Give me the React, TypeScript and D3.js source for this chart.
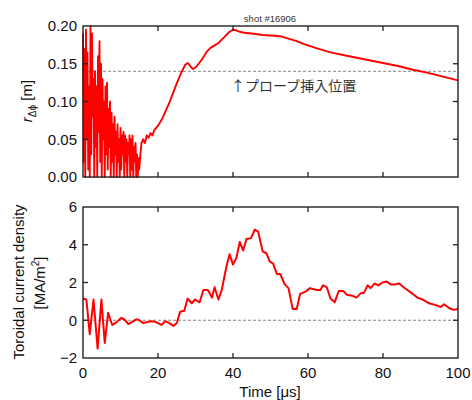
import React from 'react'
import * as d3 from 'd3'

// noisy part of r_dphi, sampled every 0.2 us from t = 0
const noiseStep = 0.2
const rNoise = [
  0.19, 0.02, 0.17, 0.0, 0.195, 0.05, 0.165, 0.01, 0.12, 0.0,
  0.2, 0.03, 0.19, 0.08, 0.13, 0.0, 0.14, 0.04, 0.12, 0.0,
  0.16, 0.06, 0.18, 0.02, 0.15, 0.0, 0.13, 0.05, 0.1, 0.0,
  0.12, 0.03, 0.125, 0.01, 0.09, 0.04, 0.1, 0.0, 0.085, 0.02,
  0.07, 0.0, 0.08, 0.03, 0.06, 0.0, 0.07, 0.02, 0.05, 0.0,
  0.065, 0.01, 0.055, 0.03, 0.06, 0.0, 0.055, 0.02, 0.05, 0.0,
  0.045, 0.03, 0.055, 0.0, 0.05, 0.01, 0.055, 0.0, 0.04, 0.02,
  0.045, 0.0, 0.03, 0.0, 0.025, 0.01
]

// smooth part [time us, r m]
const rSmooth: [number, number][] = [
  [15.3, 0.03], [15.6, 0.045], [16, 0.05], [16.5, 0.045], [17, 0.055], [17.5, 0.052],
  [18, 0.058], [18.5, 0.055], [19, 0.062], [20, 0.068], [21, 0.076], [22, 0.087],
  [23, 0.098], [24, 0.111], [25, 0.124], [26, 0.136], [26.7, 0.143], [27.3, 0.149],
  [28, 0.151], [28.6, 0.147], [29.3, 0.143], [30, 0.145], [31, 0.151], [32, 0.158],
  [33, 0.166], [34, 0.171], [35, 0.174], [36, 0.177], [37, 0.182], [38, 0.187],
  [39, 0.192], [40, 0.195], [41, 0.194], [42, 0.192], [43, 0.191], [45, 0.19],
  [48, 0.188], [51, 0.187], [53, 0.186], [55, 0.183], [57, 0.18], [59, 0.176],
  [62, 0.171], [66, 0.165], [70, 0.161], [73, 0.158], [77, 0.154], [80, 0.151],
  [84, 0.147], [88, 0.142], [92, 0.138], [96, 0.133], [100, 0.128]
]

// toroidal current density [time us, MA/m2]
const jData: [number, number][] = [
  [0, 1.15], [0.9, 1.1], [1.8, -0.74], [2.8, 1.1], [3.9, -1.5], [4.9, 1.1], [5.8, -1.2],
  [6.7, 0.4], [7.8, -0.25], [9, -0.1], [10.1, 0.12], [11, 0.05], [12.1, -0.2], [13, -0.1],
  [14.2, 0.05], [15, 0], [16.1, -0.15], [17, -0.1], [18.3, -0.05], [19.5, -0.1], [20.9, -0.25],
  [21.9, -0.05], [23, -0.15], [24.1, -0.3], [25, -0.15], [25.9, 0.45], [27, 0.5], [27.9, 1.15],
  [29, 0.9], [29.9, 1.1], [31.1, 0.95], [32.1, 1.6], [33.3, 1.6], [34.4, 1.2], [35.1, 1.75],
  [36.1, 1.1], [37, 1.6], [38.3, 2.9], [39.1, 3.5], [40, 2.95], [40.9, 3.3], [41.8, 4.15],
  [42.7, 3.7], [43.6, 4.3], [44.8, 4.35], [45.8, 4.8], [46.7, 4.7], [47.9, 3.65], [48.9, 3.55],
  [49.8, 3.1], [50.7, 3.0], [51.7, 2.45], [52.6, 2.45], [53.8, 1.9], [54.8, 1.7], [55.9, 0.6],
  [57, 0.6], [57.9, 1.4], [59.2, 1.5], [60.5, 1.7], [62.4, 1.6], [63.3, 1.6], [64, 1.85],
  [65, 1.75], [66, 1.15], [67.1, 0.95], [68.2, 1.55], [69.4, 1.55], [70.4, 1.35], [71.8, 1.3],
  [72.9, 1.2], [74.2, 1.45], [74.9, 1.45], [75.9, 1.85], [76.7, 1.7], [77.8, 1.95], [78.7, 1.85],
  [79.9, 2.0], [81, 2.05], [82.1, 1.9], [83.2, 1.9], [84.3, 1.95], [85.5, 1.75], [86.5, 1.6],
  [87.9, 1.4], [89.2, 1.2], [90.5, 1.1], [92.3, 0.9], [94.1, 0.8], [95.4, 0.7], [96.3, 0.85],
  [97.6, 0.65], [98.8, 0.55], [100, 0.6]
]

const xTicks = [0, 20, 40, 60, 80, 100]
const rTicks = [0, 0.05, 0.1, 0.15, 0.2]
const jTicks = [-2, 0, 2, 4, 6]
const probeR = 0.14
const shotLabel = 'shot #16906'
const probeLabel = '↑プローブ挿入位置'

const font = 'Liberation Sans, Arial, sans-serif'
const left = 83
const right = 458
const tickLen = 5

export default function App() {
  const x = d3.scaleLinear().domain([0, 100]).range([left, right])
  const yTop = d3.scaleLinear().domain([0, 0.2]).range([177, 26])
  const yBot = d3.scaleLinear().domain([-2, 6]).range([358, 207])

  const rAll: [number, number][] = rNoise
    .map((v, i) => [i * noiseStep, v] as [number, number])
    .concat(rSmooth)

  const lineTop = d3.line<[number, number]>().x(d => x(d[0])).y(d => yTop(d[1]))
  const lineBot = d3.line<[number, number]>().x(d => x(d[0])).y(d => yBot(d[1]))

  const frame = (y: d3.ScaleLinear<number, number>, yt: number[], fmt: (v: number) => string, showX: boolean) => {
    const [y0, y1] = y.range()
    return (
      <g>
        {xTicks.slice(1, -1).map(t => (
          <g key={'x' + t}>
            <line x1={x(t)} x2={x(t)} y1={y0} y2={y0 - tickLen} stroke="#222" strokeWidth={1.3} />
            <line x1={x(t)} x2={x(t)} y1={y1} y2={y1 + tickLen} stroke="#222" strokeWidth={1.3} />
          </g>
        ))}
        {yt.slice(1, -1).map(t => (
          <g key={'y' + t}>
            <line x1={left} x2={left + tickLen} y1={y(t)} y2={y(t)} stroke="#222" strokeWidth={1.3} />
            <line x1={right} x2={right - tickLen} y1={y(t)} y2={y(t)} stroke="#222" strokeWidth={1.3} />
          </g>
        ))}
        {yt.map(t => (
          <text key={'yl' + t} x={left - 6} y={y(t)} dy="0.36em" textAnchor="end"
            fontFamily={font} fontSize={15} fill="#111">{fmt(t)}</text>
        ))}
        {showX && xTicks.map(t => (
          <text key={'xl' + t} x={x(t)} y={y0 + 20} textAnchor="middle"
            fontFamily={font} fontSize={15} fill="#111">{t}</text>
        ))}
        <rect x={left} y={y1} width={right - left} height={y0 - y1} fill="none" stroke="#222" strokeWidth={1.4} />
      </g>
    )
  }

  return (
    <svg width={472} height={400} style={{ position: 'absolute', left: 0, top: 0 }}>
      <rect width={472} height={400} fill="#fff" />
      <text x={270} y={22} textAnchor="middle" fontFamily={font} fontSize={9.5} fill="#333">{shotLabel}</text>

      {/* top panel */}
      <line x1={left} x2={right} y1={yTop(probeR)} y2={yTop(probeR)} stroke="#888" strokeWidth={1} strokeDasharray="3,2" />
      <path d={lineTop(rAll) || ''} fill="none" stroke="#ff0000" strokeWidth={1.9} strokeLinejoin="round" />
      <text x={231} y={91} fontFamily="Noto Sans CJK JP, sans-serif" fontSize={14} fill="#333">{probeLabel}</text>
      {frame(yTop, rTicks, d3.format('.2f'), false)}
      <text transform="translate(32,101) rotate(-90)" textAnchor="middle" fontFamily={font} fontSize={15} fill="#111">
        <tspan fontStyle="italic">r</tspan>
        <tspan fontSize={10} dy={4}>Δϕ</tspan>
        <tspan dy={-4}> [m]</tspan>
      </text>

      {/* bottom panel */}
      <line x1={left} x2={right} y1={yBot(0)} y2={yBot(0)} stroke="#888" strokeWidth={1} strokeDasharray="3,2" />
      <path d={lineBot(jData) || ''} fill="none" stroke="#ff0000" strokeWidth={2} strokeLinejoin="round" />
      {frame(yBot, jTicks, d3.format('d'), true)}
      <text transform="translate(24,282) rotate(-90)" textAnchor="middle" fontFamily={font} fontSize={15} fill="#111">
        Toroidal current density
      </text>
      <text transform="translate(45,283) rotate(-90)" textAnchor="middle" fontFamily={font} fontSize={15} fill="#111">
        [MA/m<tspan fontSize={10} dy={-6}>2</tspan><tspan dy={6}>]</tspan>
      </text>
      <text x={270} y={397} textAnchor="middle" fontFamily={font} fontSize={15} fill="#111">Time [μs]</text>
    </svg>
  )
}
